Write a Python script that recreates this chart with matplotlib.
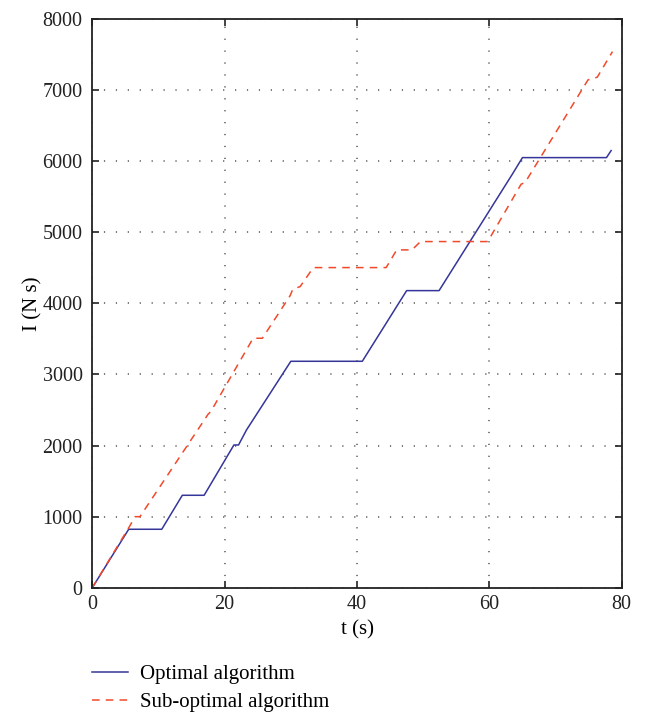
import matplotlib
matplotlib.use("Agg")
import matplotlib.pyplot as plt

# Optimal algorithm
t_opt = [0, 5.5, 10.5, 13.6, 16.9, 21.4, 22.1, 23.3, 30.0, 40.8, 47.5, 52.4, 63.5, 65.0, 77.7, 78.4]
i_opt = [0, 822, 822, 1300, 1300, 2008, 2008, 2219, 3185, 3185, 4179, 4179, 5821, 6050, 6050, 6149]

# Sub-optimal algorithm
t_sub = [0, 5.6, 6.45, 7.2, 17.5, 17.9, 24.3, 25.7, 29.9, 30.3, 31.4, 33.4, 44.4, 46.0, 48.3, 49.6,
         59.75, 64.8, 65.4, 74.9, 76.3, 78.6]
i_sub = [0, 858, 999, 999, 2440, 2477, 3509, 3509, 4109, 4200, 4235, 4503, 4503, 4752, 4752, 4869,
         4869, 5676, 5700, 7143, 7181, 7541]

x_ticks = [0, 20, 40, 60, 80]
y_ticks = [0, 1000, 2000, 3000, 4000, 5000, 6000, 7000, 8000]

plt.rcParams['font.family'] = ['Liberation Serif', 'DejaVu Serif']
fig = plt.figure(figsize=(6.45, 7.14), dpi=100)
ax = fig.add_axes([0.1431, 0.1769, 0.8208, 0.7965])

ax.plot(t_opt, i_opt, color='#35359a', lw=1.1, label='Optimal algorithm')
ax.plot(t_sub, i_sub, color='#f04a2a', lw=1.1, ls=(0, (5, 4)), label='Sub-optimal algorithm')

ax.set_xlim(0, 80)
ax.set_ylim(0, 8000)
ax.set_xticks(x_ticks)
ax.set_yticks(y_ticks)
ax.grid(True, color='#555555', lw=1.1, ls=(0, (0.8, 7.0)))
ax.tick_params(direction='in', length=5, width=1.2, top=True, right=True, labelsize=14.5,
               colors='#222222')
ax.tick_params(axis='y', pad=7)
ax.tick_params(axis='x', pad=5)
for s in ax.spines.values():
    s.set_linewidth(1.3)
    s.set_color('#222222')

ax.set_xlabel('t (s)', fontsize=15, labelpad=5)
ax.set_ylabel('I (N s)', fontsize=15, labelpad=0)

fig.legend(loc='upper left', bbox_to_anchor=(0.129, 0.081), frameon=False, fontsize=15,
           handlelength=1.75, handletextpad=0.6, labelspacing=0.42, borderaxespad=0)

fig.savefig('out.png', dpi=100)
